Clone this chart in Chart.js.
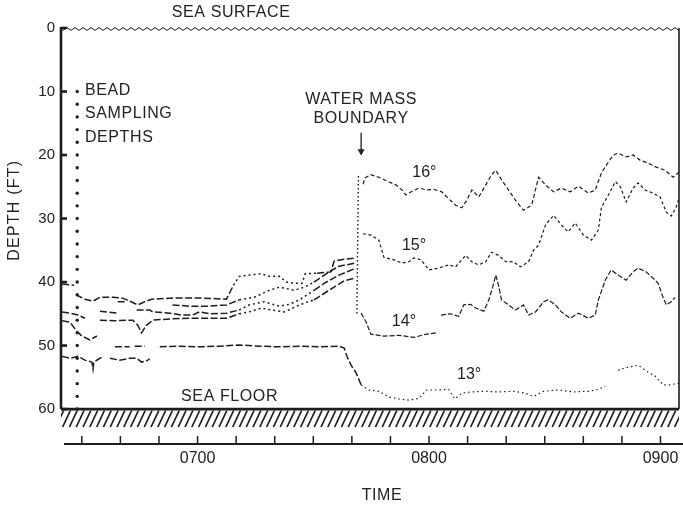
<!DOCTYPE html>
<html>
<head>
<meta charset="utf-8">
<script src="https://cdn.jsdelivr.net/npm/chart.js@4.4.1/dist/chart.umd.min.js"></script>
<style>
body { margin: 0; background: #fff; }
#area { width: 683px; height: 505px; }
</style>
</head>
<body>
<div id="area"><canvas id="grafico" width="683" height="505"></canvas></div>
<script>
// tempo em minutos depois das 0600, profundidade em pes
const marcasTempo = [30, 40, 50, 60, 70, 80, 90, 100, 110, 120, 130, 140, 150, 160, 170, 180]
const rotulosTempo = { 60: '0700', 120: '0800', 180: '0900' }
const marcasProfundidade = [0, 10, 20, 30, 40, 50, 60]

// contas de amostragem (coluna pontilhada)
const tempoContas = 28.8
const profundidadesContas = [10, 12, 14, 16, 18, 20, 22, 24, 26, 28, 30, 32, 34, 36, 38, 40, 42, 44, 46, 48, 50, 52, 54, 56, 58, 60]

// linha da fronteira entre massas de agua
const fronteira = [[101.7, 23.3], [101.3, 45.3]]

// isotermas: [tempo, profundidade], null = falha no registro
const iso16 = [[24.9, 40.3], [28.0, 40.5], [28.2, null], [28.5, 42.0], [30.8, 42.7], [32.9, 43.0], [34.7, 42.4], [38.0, 42.4], [40.4, 42.5], [42.4, 43.0], [44.5, 43.6], [46.3, 43.1], [48.1, 42.7], [54.1, 42.5], [60.5, 42.5], [67.5, 42.7], [69.3, 40.5], [70.8, 39.1], [73.4, 38.9], [76.5, 38.7], [78.6, 39.1], [81.2, 39.1], [83.0, 40.0], [85.3, 40.2], [87.1, 40.2], [87.9, 38.7], [91.0, 38.6], [94.6, 38.4], [95.4, 36.7], [98.0, 36.4], [101.1, 36.2], [101.5, null],
	[102.9, 24.6], [103.4, 23.6], [104.9, 23.1], [107.0, 23.5], [109.1, 24.1], [111.4, 24.7], [113.0, 25.5], [114.0, 26.3], [115.6, 25.7], [117.4, 25.2], [119.4, 25.5], [121.2, 25.4], [123.3, 25.8], [125.1, 26.9], [126.9, 27.9], [128.5, 28.3], [129.8, 27.1], [131.1, 25.5], [132.9, 26.6], [134.7, 24.7], [136.2, 23.1], [137.3, 22.4], [138.8, 23.9], [140.6, 25.5], [142.4, 27.1], [144.5, 28.7], [146.6, 27.9], [148.4, 23.5], [150.2, 24.7], [152.3, 25.8], [154.3, 25.2], [156.6, 25.8], [158.7, 24.9], [161.3, 26.0], [163.1, 25.5], [164.7, 22.8], [166.5, 21.1], [167.8, 20.0], [169.0, 19.7], [171.1, 20.3], [172.9, 20.0], [174.7, 20.8], [176.8, 21.3], [178.9, 21.9], [181.2, 22.4], [183.3, 23.5], [184.8, 22.7]]
const iso15 = [[39.3, 43.1], [41.7, 43.1], [45.0, null], [53.5, 43.6], [57.9, 43.8], [62.6, 43.8], [67.5, 43.6], [70.8, 42.8], [74.7, 42.4], [78.6, 41.3], [81.2, 40.8], [85.1, 41.3], [87.7, 40.8], [90.2, 40.0], [94.1, 38.4], [96.7, 37.5], [101.1, 37.0], [101.5, null],
	[102.9, 32.4], [104.9, 32.6], [107.0, 33.4], [108.3, 36.1], [110.9, 36.5], [113.0, 37.0], [114.8, 36.8], [116.1, 36.2], [117.9, 36.5], [120.0, 38.1], [122.5, 37.8], [125.1, 37.3], [126.9, 37.6], [128.5, 36.5], [129.5, 35.8], [131.1, 36.8], [132.9, 37.3], [134.7, 36.8], [136.2, 35.3], [138.0, 35.8], [139.9, 36.8], [141.9, 36.8], [143.7, 37.6], [145.8, 36.8], [147.1, 35.0], [148.4, 34.2], [150.2, 31.0], [152.3, 29.5], [154.3, 31.0], [156.1, 32.1], [157.9, 30.7], [160.0, 32.6], [162.1, 33.4], [163.9, 31.8], [164.7, 28.2], [166.5, 26.3], [168.3, 24.2], [169.6, 25.0], [171.1, 27.4], [172.9, 25.2], [174.2, 24.4], [176.0, 25.5], [178.1, 26.0], [179.9, 26.6], [181.5, 29.0], [182.8, 29.6], [184.0, 28.3], [184.8, 26.8]]
const iso14 = [[24.9, 44.7], [26.9, 44.9], [29.0, 45.2], [30.8, 45.7], [32.0, null], [34.7, 44.6], [39.1, 44.9], [41.0, null], [44.2, 44.4], [47.6, 44.4], [48.4, 44.7], [52.8, 44.9], [55.9, 45.2], [58.7, 45.2], [60.5, 44.7], [63.1, 45.0], [67.5, 44.9], [70.8, 44.4], [73.4, 43.6], [77.3, 43.1], [81.2, 43.8], [83.8, 43.5], [86.4, 42.8], [90.2, 41.3], [92.8, 40.2], [96.7, 38.9], [101.1, 37.8], [101.5, null],
	[102.4, 44.9], [103.7, 46.3], [104.9, 48.2], [108.3, 48.5], [112.2, 48.4], [116.1, 48.7], [119.4, 48.2], [122.0, 48.0], [122.3, null], [123.1, 45.2], [125.6, 45.0], [127.7, 45.4], [129.0, 43.6], [130.8, 43.5], [132.1, 44.1], [134.2, 44.6], [135.5, 42.8], [136.5, 40.8], [137.3, 38.9], [138.0, 40.5], [138.8, 42.8], [140.6, 43.6], [142.4, 44.4], [144.5, 43.6], [145.8, 45.2], [147.6, 44.7], [149.7, 43.1], [150.9, 42.8], [152.8, 43.6], [154.3, 44.7], [156.6, 45.7], [158.7, 44.9], [161.3, 45.7], [163.1, 45.2], [163.9, 42.8], [165.7, 39.7], [167.2, 38.1], [169.0, 38.9], [171.1, 39.7], [172.9, 38.4], [174.2, 37.8], [176.3, 38.4], [178.1, 39.4], [179.4, 40.2], [180.4, 42.0], [181.5, 43.6], [182.8, 43.1], [183.8, 42.4]]
const isoIntermediaria = [[24.9, 46.1], [26.9, 46.3], [28.5, 47.6], [30.0, 48.5], [32.1, 49.1], [33.9, 48.5], [34.3, null], [34.7, 46.0], [38.6, 46.1], [41.7, 46.0], [43.2, 46.0], [44.5, 46.8], [45.5, 48.0], [46.6, 46.9], [48.4, 46.0], [52.8, 45.8], [57.9, 45.7], [63.1, 45.7], [67.5, 45.7], [70.8, 45.0], [73.4, 44.7], [76.5, 44.1], [79.1, 44.4], [82.5, 44.7], [86.4, 43.6], [90.2, 42.8], [94.1, 41.3], [98.0, 39.8], [100.6, 39.4]]
const iso13 = [[38.6, 50.2], [42.4, 50.2], [43.0, null], [43.7, 50.1], [46.3, 50.1], [47.0, null], [50.2, 50.2], [55.4, 50.1], [60.5, 50.2], [65.7, 50.1], [70.8, 49.9], [76.0, 50.1], [81.2, 50.2], [86.4, 50.1], [91.5, 50.2], [96.7, 50.1], [98.0, 50.4], [98.8, 51.8], [99.8, 53.1], [101.1, 54.3],
	[102.4, 56.2], [104.4, 57.0], [107.0, 57.2], [109.6, 58.1], [112.2, 58.4], [114.8, 58.6], [117.4, 58.3], [119.4, 57.0], [122.5, 57.0], [125.1, 56.9], [126.7, 58.4], [128.5, 57.5], [131.1, 57.3], [134.2, 57.2], [138.0, 57.3], [141.9, 57.2], [145.0, 57.5], [147.1, 58.0], [149.7, 57.2], [153.5, 57.0], [157.4, 57.3], [161.3, 57.2], [163.9, 56.9], [165.7, 56.4], [167.0, null], [169.0, 53.9], [171.6, 53.4], [174.2, 53.1], [176.8, 54.2], [178.6, 54.8], [180.7, 56.2], [182.5, 56.2], [184.8, 55.9]]
const iso12 = [[24.9, 51.7], [26.9, 52.0], [29.0, 51.7], [30.8, 52.3], [32.6, 52.6], [32.9, 53.7], [33.1, 52.6], [35.2, 51.8], [36.0, null], [37.3, 52.0], [39.8, 52.3], [42.4, 52.0], [44.2, 52.0], [45.5, 52.6], [46.8, 52.4], [47.6, 52.1]]

const tinta = '#1d1d1d'
const fonte = '"Liberation Sans", Arial, sans-serif'
Chart.defaults.font.family = fonte
Chart.defaults.color = '#222'

const paraPontos = lista => lista.map(p => ({ x: p[0], y: p[1] }))
const TEMPO_FRONTEIRA = 101.5
// trecho antes da fronteira onde o registro fica pontilhado (so no feixe de cima)
const TRECHO_RUIDO = [69, 88]

const traco = (lista, tracoDepois, larguraDepois, comRuido = true) => ({
	data: paraPontos(lista),
	borderColor: tinta,
	borderWidth: 1.5,
	borderDash: [7, 2.5],
	pointRadius: 0,
	tension: 0,
	spanGaps: false,
	segment: {
		borderDash: c => {
			const t = c.p0.parsed.x
			if (t > TEMPO_FRONTEIRA) return tracoDepois
			if (comRuido && t >= TRECHO_RUIDO[0] && t < TRECHO_RUIDO[1]) return [2, 3]
			return [7, 2.5]
		},
		borderWidth: c => c.p0.parsed.x > TEMPO_FRONTEIRA ? larguraDepois : 1.5
	}
})

const moldura = {
	id: 'moldura',
	beforeDatasetsDraw(chart) {
		const { ctx, scales: { x, y } } = chart
		const esq = x.left, dir = x.right
		const topo = y.getPixelForValue(0), fundo = y.getPixelForValue(60)
		ctx.save()
		ctx.strokeStyle = tinta
		// eixo de profundidade e marcas para dentro
		ctx.lineWidth = 2.6
		ctx.beginPath(); ctx.moveTo(esq, topo - 1); ctx.lineTo(esq, fundo); ctx.stroke()
		marcasProfundidade.forEach(v => {
			const py = y.getPixelForValue(v)
			ctx.beginPath(); ctx.moveTo(esq, py); ctx.lineTo(esq + 6, py); ctx.stroke()
		})
		// lado direito
		ctx.lineWidth = 1.6
		ctx.beginPath(); ctx.moveTo(dir, topo); ctx.lineTo(dir, fundo); ctx.stroke()
		// superficie do mar (ondulada)
		ctx.lineWidth = 1
		ctx.beginPath()
		for (let px = esq; px <= dir; px++) {
			const py = topo + 1 + Math.sin((px - esq) / 8 * 2 * Math.PI) * 1.2
			if (px === esq) ctx.moveTo(px, py); else ctx.lineTo(px, py)
		}
		ctx.stroke()
		// fundo do mar com hachura
		ctx.lineWidth = 2.8
		ctx.beginPath(); ctx.moveTo(esq, fundo); ctx.lineTo(dir, fundo); ctx.stroke()
		ctx.save()
		ctx.beginPath(); ctx.rect(esq, fundo + 1.5, dir - esq, 17); ctx.clip()
		ctx.lineWidth = 1.6
		for (let hx = esq - 12; hx < dir + 12; hx += 6.8) {
			ctx.beginPath(); ctx.moveTo(hx, fundo + 18); ctx.lineTo(hx + 8, fundo + 1); ctx.stroke()
		}
		ctx.restore()
		// eixo do tempo, marcas para cima
		const eixo = y.bottom
		ctx.lineWidth = 2
		ctx.beginPath(); ctx.moveTo(esq + 3, eixo); ctx.lineTo(chart.width, eixo); ctx.stroke()
		ctx.lineWidth = 1.5
		marcasTempo.forEach(t => {
			const px = x.getPixelForValue(t)
			ctx.beginPath(); ctx.moveTo(px, eixo); ctx.lineTo(px, eixo - 8); ctx.stroke()
		})
		ctx.restore()
	},
	afterDraw(chart) {
		const { ctx, scales: { x, y } } = chart
		const px = t => x.getPixelForValue(t)
		const py = d => y.getPixelForValue(d)
		ctx.save()
		ctx.fillStyle = '#222'
		ctx.font = '16px ' + fonte
		ctx.textBaseline = 'middle'
		ctx.letterSpacing = '0.6px'
		const escreve = (texto, t, d, alinha = 'center') => {
			ctx.textAlign = alinha
			ctx.fillText(texto, px(t), py(d))
		}
		escreve('SEA SURFACE', 68.7, -2.4)
		escreve('BEAD', 30.8, 9.8, 'left')
		escreve('SAMPLING', 30.8, 13.4, 'left')
		escreve('DEPTHS', 30.8, 17.2, 'left')
		escreve('WATER MASS', 102.4, 11.3)
		escreve('BOUNDARY', 102.4, 14.2)
		escreve('SEA FLOOR', 68.3, 58.1)
		escreve('TIME', 107.8, 73.7)
		ctx.letterSpacing = '0px'
		escreve('16°', 118.8, 22.8)
		escreve('15°', 116.1, 34.2)
		escreve('14°', 113.5, 46.3)
		escreve('13°', 130.4, 54.6)
		// titulo do eixo vertical
		ctx.save()
		ctx.letterSpacing = '1.2px'
		ctx.translate(15, py(28.7))
		ctx.rotate(-Math.PI / 2)
		ctx.textAlign = 'center'
		ctx.fillText('DEPTH (FT)', 0, 0)
		ctx.restore()
		// seta da fronteira
		const ax = px(102.4)
		ctx.strokeStyle = tinta
		ctx.lineWidth = 1.3
		ctx.beginPath(); ctx.moveTo(ax, py(16.5)); ctx.lineTo(ax, py(19.4)); ctx.stroke()
		ctx.beginPath()
		ctx.moveTo(ax - 3.5, py(19.1)); ctx.lineTo(ax + 3.5, py(19.1)); ctx.lineTo(ax, py(20.1)); ctx.closePath()
		ctx.fill()
		ctx.restore()
	}
}

const grafico = new Chart(document.getElementById('grafico'), {
	type: 'line',
	data: {
		datasets: [
			traco(iso16, [4, 2.5], 1.2),
			traco(iso15, [3, 2.5], 1.2),
			traco(iso14, [5, 2], 1.2),
			traco(isoIntermediaria, [4, 2], 1.2),
			traco(iso13, [1.5, 3], 1.2, false),
			traco(iso12, [3, 2.5], 1.2, false),
			{
				data: paraPontos(fronteira),
				borderColor: tinta,
				borderWidth: 1.4,
				borderDash: [1.5, 2.5],
				pointRadius: 0
			},
			{
				type: 'scatter',
				data: profundidadesContas.map(d => ({ x: tempoContas, y: d })),
				pointRadius: 1.7,
				pointBackgroundColor: tinta,
				pointBorderWidth: 0,
				showLine: false
			}
		]
	},
	options: {
		responsive: false,
		devicePixelRatio: 1,
		animation: false,
		layout: { padding: { top: 28, right: 2, bottom: 0, left: 0 } },
		plugins: { legend: { display: false }, tooltip: { enabled: false } },
		scales: {
			x: {
				type: 'linear',
				min: 24.6,
				max: 184.8,
				border: { display: false },
				grid: { display: false, drawTicks: false },
				afterBuildTicks: s => { s.ticks = marcasTempo.map(v => ({ value: v })) },
				afterFit: s => { s.height = 61; s.paddingLeft = 0; s.paddingRight = 0 },
				ticks: {
					autoSkip: false,
					maxRotation: 0,
					minRotation: 0,
					padding: 5,
					font: { size: 16 },
					callback: v => rotulosTempo[v] || ''
				}
			},
			y: {
				type: 'linear',
				reverse: true,
				min: 0,
				max: 65.5,
				border: { display: false },
				grid: { display: false, drawTicks: false },
				afterBuildTicks: s => { s.ticks = marcasProfundidade.map(v => ({ value: v })) },
				afterFit: s => { s.width = 61; s.paddingTop = 0; s.paddingBottom = 0 },
				ticks: { padding: 6, font: { size: 15 }, callback: v => String(v) }
			}
		}
	},
	plugins: [moldura]
})
</script>
</body>
</html>
